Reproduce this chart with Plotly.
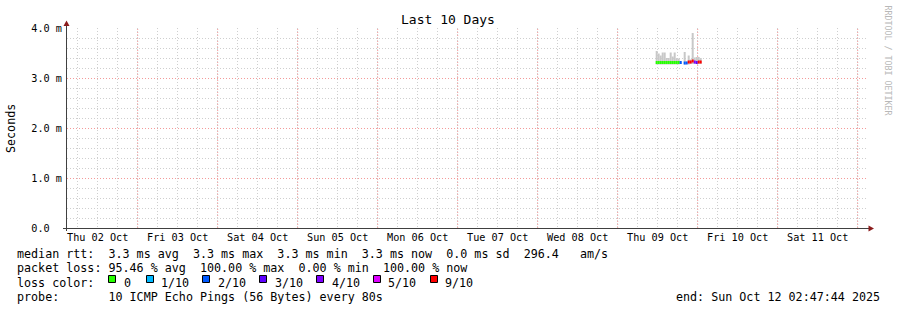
import plotly.graph_objects as go

# ---------------- data ----------------
chart_title = "Last 10 Days"
x_start = "2025-10-02 02:47:44"
x_end = "2025-10-12 02:47:44"

day_bounds = ["2025-10-03", "2025-10-04", "2025-10-05", "2025-10-06", "2025-10-07",
              "2025-10-08", "2025-10-09", "2025-10-10", "2025-10-11", "2025-10-12"]
day_noons = ["2025-10-02 12:00", "2025-10-03 12:00", "2025-10-04 12:00", "2025-10-05 12:00",
             "2025-10-06 12:00", "2025-10-07 12:00", "2025-10-08 12:00", "2025-10-09 12:00",
             "2025-10-10 12:00", "2025-10-11 12:00"]
day_labels = ["Thu 02 Oct", "Fri 03 Oct", "Sat 04 Oct", "Sun 05 Oct", "Mon 06 Oct",
              "Tue 07 Oct", "Wed 08 Oct", "Thu 09 Oct", "Fri 10 Oct", "Sat 11 Oct"]

y_tick_vals = [0, 1, 2, 3, 4]          # milliseconds
y_tick_text = ["0.0  ", "1.0 m", "2.0 m", "3.0 m", "4.0 m"]

# consolidated samples (left edge of each 36-minute bin)
sample_times = ["2025-10-09 11:24", "2025-10-09 12:00", "2025-10-09 12:36", "2025-10-09 13:12",
                "2025-10-09 13:48", "2025-10-09 14:24", "2025-10-09 15:00", "2025-10-09 15:36",
                "2025-10-09 16:12", "2025-10-09 16:48", "2025-10-09 17:24", "2025-10-09 18:00",
                "2025-10-09 18:36", "2025-10-09 19:12", "2025-10-09 19:48", "2025-10-09 20:24",
                "2025-10-09 21:00", "2025-10-09 21:36", "2025-10-09 22:12", "2025-10-09 22:48",
                "2025-10-09 23:24", "2025-10-10 00:00", "2025-10-10 00:36"]
bin_ms = 36 * 60 * 1000

median_rtt = [3.31, 3.31, 3.31, 3.31, 3.31, 3.31, 3.31, 3.31, 3.31, 3.31, 3.31, 3.31,
              3.31, None, 3.30, 3.30, 3.32, 3.32, 3.34, 3.32, 3.31, 3.32, 3.32]
smoke_low = [3.27, 3.27, 3.27, 3.27, 3.27, 3.27, 3.27, 3.27, 3.27, 3.27, 3.27, 3.27,
             3.28, None, 3.27, 3.28, 3.27, 3.28, 3.28, 3.28, 3.28, 3.28, 3.28]
smoke_high = [3.54, 3.49, 3.45, 3.51, 3.51, 3.40, 3.40, 3.51, 3.43, 3.51, 3.39, 3.39,
              3.33, None, 3.52, 3.33, 3.45, 3.37, 3.90, 3.41, 3.42, 3.42, 3.40]
pings_lost = [0, 0, 0, 0, 0, 0, 0, 0, 0, 0, 0, 0,
              2, None, 2, 2, 9, 9, 9, 4, 3, 9, 9]

loss_levels = [0, 1, 2, 3, 4, 5, 9]
loss_labels = ["0", "1/10", "2/10", "3/10", "4/10", "5/10", "9/10"]
loss_colors = ["#26ff00", "#00b8ff", "#0059ff", "#5e00ff", "#7e00ff", "#dd00ff", "#ff0000"]

legend_rows = [
    "median rtt:  3.3 ms avg  3.3 ms max  3.3 ms min  3.3 ms now  0.0 ms sd  296.4   am/s",
    "packet loss: 95.46 % avg  100.00 % max  0.00 % min  100.00 % now",
    "loss color:",
    "probe:       10 ICMP Echo Pings (56 Bytes) every 80s",
]
end_text = "end: Sun Oct 12 02:47:44 2025"
y_title = "Seconds"
watermark = "RRDTOOL / TOBI OETIKER"

# ---------------- layout helpers ----------------
W, H = 897, 310
PL, PR, PT, PB = 67, 867, 28, 228
MONO = "DejaVu Sans Mono"


def fx(p):
    return (p - PL) / (PR - PL)


def fy(p):
    return (PB - p) / (PB - PT)


def nb(s):
    return s.replace(" ", "\u00a0")


fig = go.Figure()

# smoke
fig.add_trace(go.Bar(
    x=sample_times,
    y=[(h - l) if (h is not None and l is not None) else None for h, l in zip(smoke_high, smoke_low)],
    base=smoke_low, width=bin_ms, offset=0,
    marker=dict(color="#c8c8c8", line=dict(width=0)),
    showlegend=False, hoverinfo="skip"))

# median band coloured by loss
band = 0.06
for lvl, col in zip(loss_levels, loss_colors):
    ys, bs = [], []
    for m, lo in zip(median_rtt, pings_lost):
        if m is not None and lo == lvl:
            ys.append(band)
            bs.append(m - band / 2)
        else:
            ys.append(None)
            bs.append(None)
    fig.add_trace(go.Bar(x=sample_times, y=ys, base=bs, width=bin_ms, offset=0,
                         marker=dict(color=col, line=dict(width=0)),
                         showlegend=False, hoverinfo="skip"))

MAJ = "#f49a9a"
MIN = "#cfcfcf"
DASH = "1px,2px"

fig.update_layout(
    width=W, height=H,
    margin=dict(l=PL, r=W - PR, t=PT, b=H - PB, pad=0),
    paper_bgcolor="white", plot_bgcolor="white",
    barmode="overlay", showlegend=False,
    font=dict(family=MONO, size=10.2, color="black"),
    xaxis=dict(type="date", range=[x_start, x_end], tickmode="linear",
               tick0="2025-10-02", dtick=6 * 3600 * 1000,
               showticklabels=False, ticks="", showline=False, zeroline=False,
               showgrid=True, gridcolor=MIN, gridwidth=1, griddash=DASH),
    xaxis2=dict(type="date", range=[x_start, x_end], overlaying="x", anchor="y", side="bottom",
                tickmode="array", tickvals=day_noons, ticktext=day_labels,
                showgrid=False, showline=False, zeroline=False, ticks="", ticklabelstandoff=2,
                tickfont=dict(family=MONO, size=10.2, color="black")),
    yaxis=dict(range=[0, 4], tickmode="array", tickvals=y_tick_vals,
               ticktext=[nb(t) for t in y_tick_text],
               ticks="", showline=False, zeroline=False, ticklabelstandoff=4,
               showgrid=True, gridcolor=MAJ, gridwidth=1, griddash=DASH,
               tickfont=dict(family=MONO, size=10.2, color="black"),
               minor=dict(dtick=0.2, showgrid=True, gridcolor=MIN, gridwidth=1,
                          griddash=DASH, ticks="")),
)

# dummy trace to keep xaxis2 alive
fig.add_trace(go.Scatter(x=[x_start], y=[None], xaxis="x2", yaxis="y",
                         mode="markers", showlegend=False, hoverinfo="skip"))

shapes = []
# major day grid (red dotted) over the minor grid
for d in day_bounds:
    shapes.append(dict(type="line", xref="x", yref="paper", x0=d, x1=d, y0=0, y1=1,
                       layer="between", line=dict(color=MAJ, width=1, dash=DASH)))

AX = "#404040"
ARW = "#8b1c1c"
shapes.append(dict(type="line", xref="paper", yref="paper",
                   x0=fx(66.5), x1=fx(66.5), y0=fy(231), y1=fy(25), line=dict(color=AX, width=1)))
shapes.append(dict(type="line", xref="paper", yref="paper",
                   x0=fx(63), x1=fx(870), y0=fy(228.5), y1=fy(228.5), line=dict(color=AX, width=1)))
shapes.append(dict(type="path", xref="paper", yref="paper",
                   path=f"M {fx(66.5)},{fy(20.5)} L {fx(63.5)},{fy(26)} L {fx(69.5)},{fy(26)} Z",
                   fillcolor=ARW, line=dict(width=0)))
shapes.append(dict(type="path", xref="paper", yref="paper",
                   path=f"M {fx(874)},{fy(228.5)} L {fx(868.5)},{fy(225.5)} L {fx(868.5)},{fy(231.5)} Z",
                   fillcolor=ARW, line=dict(width=0)))

# loss colour swatches
sw_left = [108, 146, 202, 259, 316, 373, 430]
for left, col in zip(sw_left, loss_colors):
    shapes.append(dict(type="rect", xref="paper", yref="paper",
                       x0=fx(left + 0.5), x1=fx(left + 7.5), y0=fy(275.5), y1=fy(282.5),
                       fillcolor=col, line=dict(color="black", width=1)))
fig.update_layout(shapes=shapes)

ann = []
ann.append(dict(text=chart_title, x=fx(448), y=fy(19.5), xref="paper", yref="paper",
                xanchor="center", yanchor="middle", showarrow=False,
                font=dict(family=MONO, size=13, color="black")))
ann.append(dict(text=y_title, x=fx(11), y=fy(128), xref="paper", yref="paper",
                xanchor="center", yanchor="middle", showarrow=False, textangle=-90,
                font=dict(family=MONO, size=11.7, color="black")))
ann.append(dict(text=nb(watermark), x=fx(887.5), y=fy(60), xref="paper", yref="paper",
                xanchor="center", yanchor="middle", showarrow=False, textangle=90,
                font=dict(family=MONO, size=8.3, color="#b8b8b8")))
row_y = [254, 268, 282.5, 296.5]
for txt, yy in zip(legend_rows, row_y):
    ann.append(dict(text=nb(txt), x=fx(15.3), y=fy(yy), xref="paper", yref="paper",
                    xanchor="left", yanchor="middle", showarrow=False,
                    font=dict(family=MONO, size=11.7, color="black")))
lab_left = [122.3, 159.3, 216, 272.8, 329.5, 386.3, 443]
for lab, xl in zip(loss_labels, lab_left):
    ann.append(dict(text=nb(lab), x=fx(xl), y=fy(row_y[2]), xref="paper", yref="paper",
                    xanchor="left", yanchor="middle", showarrow=False,
                    font=dict(family=MONO, size=11.7, color="black")))
ann.append(dict(text=nb(end_text), x=fx(881.8), y=fy(row_y[3]), xref="paper", yref="paper",
                xanchor="right", yanchor="middle", showarrow=False,
                font=dict(family=MONO, size=11.7, color="black")))
fig.update_layout(annotations=ann)

fig.write_html("out.html")
